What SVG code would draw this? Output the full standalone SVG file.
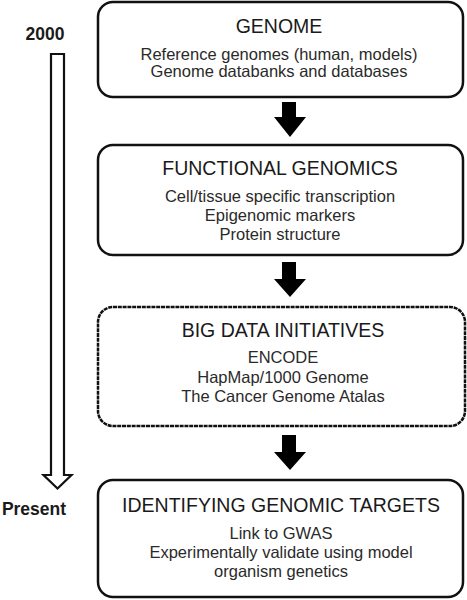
<svg xmlns="http://www.w3.org/2000/svg" width="467" height="600" viewBox="0 0 467 600">
<style>
.box{fill:#fff;stroke:#111;stroke-width:2.5}
.dash{stroke-dasharray:4 0.8}
.t{font-family:"Liberation Sans",Arial,sans-serif;font-size:19.5px;fill:#1a1a1a;text-anchor:middle}
.b{font-family:"Liberation Sans",Arial,sans-serif;font-size:16.5px;fill:#2a2a2a;text-anchor:middle}
.side{font-family:"Liberation Sans",Arial,sans-serif;font-size:17.5px;font-weight:bold;fill:#1a1a1a;text-anchor:middle}
.blk{fill:#000}
.hollow{fill:#fff;stroke:#111;stroke-width:2.2;stroke-linejoin:miter}
</style>
<rect width="467" height="600" fill="#fff"/>
<g id="timeline">
<text class="side" x="45" y="40">2000</text>
<path class="hollow" d="M51,54 H64 V475 H71.5 L57.5,488.5 L43.5,475 H51 Z"/>
<text class="side" x="34" y="515">Present</text>
</g>
<g id="genome">
<rect class="box" x="98" y="2" width="365" height="95" rx="15"/>
<text class="t" x="279" y="33">GENOME</text>
<text class="b" x="279" y="60">Reference genomes (human, models)</text>
<text class="b" x="279" y="77">Genome databanks and databases</text>
</g>
<g id="functional">
<rect class="box" x="98" y="145" width="365" height="110" rx="15"/>
<text class="t" x="280" y="175">FUNCTIONAL GENOMICS</text>
<text class="b" x="280" y="202">Cell/tissue specific transcription</text>
<text class="b" x="280" y="221">Epigenomic markers</text>
<text class="b" x="280" y="240">Protein structure</text>
</g>
<g id="bigdata">
<rect class="box dash" x="98" y="307" width="367" height="119" rx="15"/>
<text class="t" x="283" y="337">BIG DATA INITIATIVES</text>
<text class="b" x="283" y="363">ENCODE</text>
<text class="b" x="283" y="383">HapMap/1000 Genome</text>
<text class="b" x="283" y="402">The Cancer Genome Atalas</text>
</g>
<g id="targets">
<rect class="box" x="98" y="480" width="365" height="117" rx="15"/>
<text class="t" x="281" y="512">IDENTIFYING GENOMIC TARGETS</text>
<text class="b" x="281" y="539">Link to GWAS</text>
<text class="b" x="281" y="558">Experimentally validate using model</text>
<text class="b" x="281" y="577">organism genetics</text>
</g>
<g id="connectors">
<path class="blk" d="M282,102 H296 V117 H306 L290,137 L274,117 H282 Z"/>
<path class="blk" d="M282,262 H296 V279 H306 L290,297 L274,279 H282 Z"/>
<path class="blk" d="M282,435 H296 V452 H306 L290,470 L274,452 H282 Z"/>
</g>
</svg>
